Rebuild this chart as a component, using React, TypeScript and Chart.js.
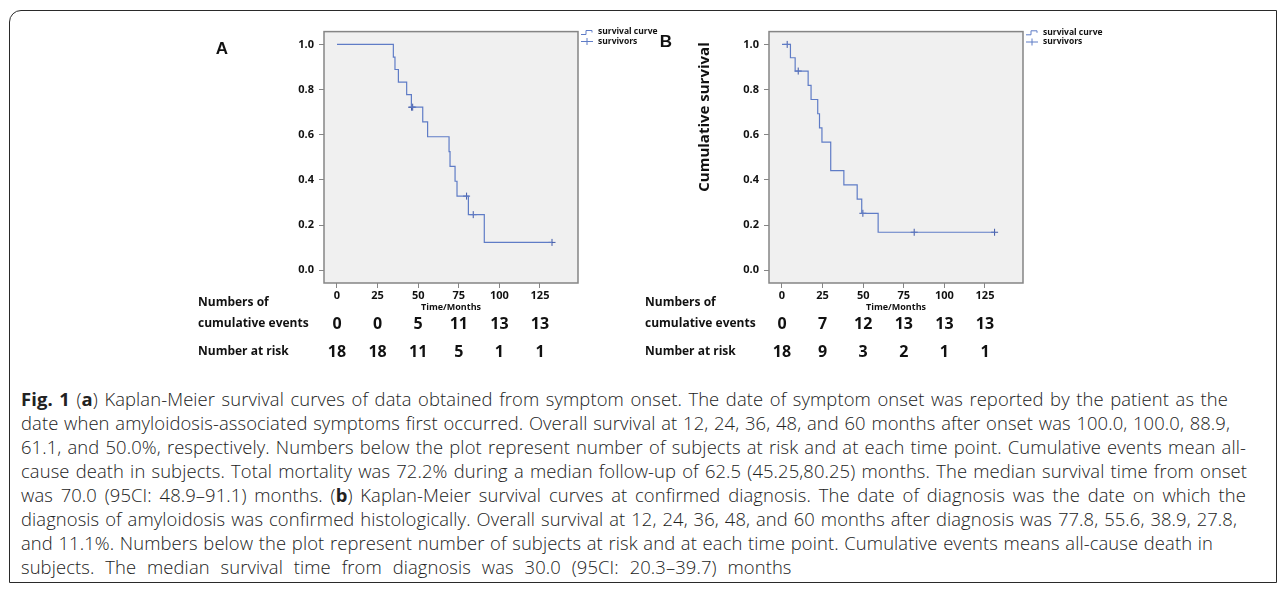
import React, { useEffect, useRef } from 'react';
import { Chart, registerables } from 'chart.js';
Chart.register(...registerables);

// ---------- data ----------
const xTicks = [0, 25, 50, 75, 100, 125];
const yTicks = [0, 0.2, 0.4, 0.6, 0.8, 1.0];

// Panel A (from symptom onset)
const timesA = [0, 34.7, 35.7, 37.8, 42.9, 45.8, 52.8, 55.8, 69.0, 69.6, 72.7, 73.9, 80.9, 90.7, 132.4];
const survA = [1.0, 0.944, 0.889, 0.833, 0.778, 0.722, 0.657, 0.591, 0.525, 0.46, 0.394, 0.328, 0.246, 0.123, 0.123];
const censorTimesA = [45.9, 46.6, 79.8, 83.9, 132.4];
const censorSurvA = [0.722, 0.722, 0.328, 0.246, 0.123];
const eventsA = [0, 0, 5, 11, 13, 13];
const riskA = [18, 18, 11, 5, 1, 1];

// Panel B (from confirmed diagnosis)
const timesB = [0, 5.2, 8.1, 16.1, 17.9, 22.0, 23.1, 24.6, 30.0, 38.1, 46.3, 49.1, 59.2, 130.9];
const survB = [1.0, 0.941, 0.882, 0.819, 0.756, 0.693, 0.63, 0.567, 0.441, 0.378, 0.315, 0.252, 0.168, 0.168];
const censorTimesB = [3.2, 10.0, 49.8, 81.4, 130.9];
const censorSurvB = [1.0, 0.882, 0.252, 0.168, 0.168];
const eventsB = [0, 7, 12, 13, 13, 13];
const riskB = [18, 9, 3, 2, 1, 1];

const legendLabels = ['survival curve', 'survivors'];
const tableLabels = ['Numbers of', 'cumulative events', 'Number at risk'];
const xTitle = 'Time/Months';
const yTitleB = 'Cumulative survival';

// ---------- style ----------
const CURVE = '#5f7cc6';
const CENSOR = '#3f58a8';
const TXT = '#111111';
const FONT = "'Open Sans', 'DejaVu Sans', sans-serif";

type PanelCfg = {
  id: string;
  ox: number; oy: number; w: number; h: number;
  padTop: number; padRight: number;
  letter: string; letterX: number; letterY: number;
  legendX: number; legendY1: number; legendY2: number;
  tableX: number;
  yTitle?: string; yTitleX?: number; yTitleY?: number;
  times: number[]; surv: number[]; cT: number[]; cS: number[];
  events: number[]; risk: number[];
};

function makeDecor(p: PanelCfg) {
  return {
    id: 'decor_' + p.id,
    beforeDraw(chart: any) {
      const { ctx, chartArea: a } = chart;
      ctx.save();
      ctx.fillStyle = '#f0f0f0';
      ctx.fillRect(a.left, a.top, a.right - a.left, a.bottom - a.top);
      ctx.restore();
    },
    afterDraw(chart: any) {
      const { ctx, chartArea: a, scales } = chart;
      const X = (v: number) => v - p.ox;
      const Y = (v: number) => v - p.oy;
      ctx.save();
      ctx.strokeStyle = '#858585';
      ctx.lineWidth = 1.5;
      ctx.strokeRect(a.left, a.top, a.right - a.left, a.bottom - a.top);

      // panel letter
      ctx.fillStyle = TXT;
      ctx.font = "bold 17px 'Liberation Sans', Arial, sans-serif";
      ctx.textAlign = 'center';
      ctx.textBaseline = 'middle';
      ctx.fillText(p.letter, X(p.letterX), Y(p.letterY));

      // legend
      const lx = X(p.legendX);
      const l1 = Y(p.legendY1);
      const l2 = Y(p.legendY2);
      ctx.strokeStyle = CURVE;
      ctx.lineWidth = 1;
      ctx.beginPath();
      ctx.moveTo(lx, l1 + 2.5);
      ctx.lineTo(lx + 5, l1 + 2.5);
      ctx.lineTo(lx + 5, l1 - 1.5);
      ctx.lineTo(lx + 11, l1 - 1.5);
      ctx.lineTo(lx + 11, l1 + 0.5);
      ctx.stroke();
      ctx.beginPath();
      ctx.moveTo(lx, l2);
      ctx.lineTo(lx + 12, l2);
      ctx.moveTo(lx + 6, l2 - 3.5);
      ctx.lineTo(lx + 6, l2 + 3.5);
      ctx.stroke();
      ctx.fillStyle = TXT;
      ctx.font = `bold 8.5px ${FONT}`;
      ctx.textAlign = 'left';
      ctx.fillText(legendLabels[0], lx + 17, l1);
      ctx.fillText(legendLabels[1], lx + 17, l2);

      // x axis title
      ctx.font = `bold 9px ${FONT}`;
      ctx.textAlign = 'center';
      ctx.fillText(xTitle, (a.left + a.right) / 2, Y(307));

      // y title
      if (p.yTitle) {
        ctx.save();
        ctx.translate(X(p.yTitleX as number), Y(p.yTitleY as number));
        ctx.rotate(-Math.PI / 2);
        ctx.font = `bold 15px ${FONT}`;
        ctx.textAlign = 'center';
        ctx.textBaseline = 'middle';
        ctx.fillText(p.yTitle, 0, 0);
        ctx.restore();
      }

      // risk table
      ctx.font = `bold 12px ${FONT}`;
      ctx.textAlign = 'left';
      ctx.fillText(tableLabels[0], X(p.tableX), Y(303));
      ctx.fillText(tableLabels[1], X(p.tableX), Y(324));
      ctx.fillText(tableLabels[2], X(p.tableX), Y(352));
      ctx.font = `bold 16px ${FONT}`;
      ctx.textAlign = 'center';
      const xs = scales.x;
      xTicks.forEach((t, i) => {
        const px = xs.getPixelForValue(t);
        ctx.fillText(String(p.events[i]), px, Y(324));
        ctx.fillText(String(p.risk[i]), px, Y(352));
      });
      ctx.restore();
    },
  };
}

function Panel({ p }: { p: PanelCfg }) {
  const ref = useRef<HTMLCanvasElement | null>(null);
  useEffect(() => {
    if (!ref.current) return;
    const chartAreaBottom = 263;
    const xAxisH = 30;
    const chart = new Chart(ref.current, {
      type: 'line',
      data: {
        datasets: [
          {
            data: p.times.map((t, i) => ({ x: t, y: p.surv[i] })),
            borderColor: CURVE,
            borderWidth: 1.2,
            stepped: 'before',
            pointRadius: 0,
            fill: false,
          },
          {
            data: p.cT.map((t, i) => ({ x: t, y: p.cS[i] })),
            showLine: false,
            pointStyle: 'cross',
            pointRadius: 3.5,
            borderColor: CENSOR,
            borderWidth: 1,
            backgroundColor: CENSOR,
          },
        ],
      },
      options: {
        animation: false,
        responsive: false,
        events: [],
        layout: {
          padding: {
            left: 0,
            top: p.padTop,
            right: p.padRight,
            bottom: p.h - chartAreaBottom - xAxisH,
          },
        },
        plugins: { legend: { display: false }, tooltip: { enabled: false } },
        scales: {
          x: {
            type: 'linear',
            min: -8,
            max: 148.4,
            afterBuildTicks: (s: any) => {
              s.ticks = xTicks.map((v) => ({ value: v }));
            },
            afterFit: (s: any) => {
              s.height = xAxisH;
            },
            ticks: {
              autoSkip: false,
              maxRotation: 0,
              padding: 1,
              color: TXT,
              font: { family: FONT, weight: 'bold', size: 11 },
            },
            grid: { drawOnChartArea: false, drawTicks: true, tickLength: 5, color: '#858585' },
            border: { display: false },
          },
          y: {
            type: 'linear',
            min: -0.0568,
            max: 1.0568,
            afterBuildTicks: (s: any) => {
              s.ticks = yTicks.map((v) => ({ value: v }));
            },
            afterFit: (s: any) => {
              s.width = 144;
            },
            ticks: {
              padding: 5,
              color: TXT,
              font: { family: FONT, weight: 'bold', size: 11 },
              callback: (v: any) => Number(v).toFixed(1),
            },
            grid: { drawOnChartArea: false, drawTicks: true, tickLength: 5, color: '#858585' },
            border: { display: false },
          },
        },
      } as any,
      plugins: [makeDecor(p)],
    });
    return () => chart.destroy();
  }, [p]);
  return (
    <canvas
      ref={ref}
      width={p.w}
      height={p.h}
      style={{ position: 'absolute', left: p.ox, top: p.oy, width: p.w, height: p.h }}
    />
  );
}

const panelA: PanelCfg = {
  id: 'A', ox: 180, oy: 20, w: 490, h: 360, padTop: 8, padRight: 92,
  letter: 'A', letterX: 222, letterY: 49,
  legendX: 581, legendY1: 32, legendY2: 41.5,
  tableX: 198,
  times: timesA, surv: survA, cT: censorTimesA, cS: censorSurvA,
  events: eventsA, risk: riskA,
};

const panelB: PanelCfg = {
  id: 'B', ox: 625, oy: 20, w: 500, h: 360, padTop: 9, padRight: 102,
  letter: 'B', letterX: 666, letterY: 42,
  legendX: 1026, legendY1: 32.3, legendY2: 42,
  tableX: 645,
  yTitle: yTitleB, yTitleX: 705, yTitleY: 117,
  times: timesB, surv: survB, cT: censorTimesB, cS: censorSurvB,
  events: eventsB, risk: riskB,
};

const captionLines: { parts: (string | { b: string })[]; end: number }[] = [
  { parts: [{ b: 'Fig. 1' }, ' (', { b: 'a' }, ') Kaplan-Meier survival curves of data obtained from symptom onset. The date of symptom onset was reported by the patient as the'], end: 1228 },
  { parts: ['date when amyloidosis-associated symptoms first occurred. Overall survival at 12, 24, 36, 48, and 60 months after onset was 100.0, 100.0, 88.9,'], end: 1230 },
  { parts: ['61.1, and 50.0%, respectively. Numbers below the plot represent number of subjects at risk and at each time point. Cumulative events mean all-'], end: 1246 },
  { parts: ['cause death in subjects. Total mortality was 72.2% during a median follow-up of 62.5 (45.25,80.25) months. The median survival time from onset'], end: 1247 },
  { parts: ['was 70.0 (95CI: 48.9\u201391.1) months. (', { b: 'b' }, ') Kaplan-Meier survival curves at confirmed diagnosis. The date of diagnosis was the date on which the'], end: 1246 },
  { parts: ['diagnosis of amyloidosis was confirmed histologically. Overall survival at 12, 24, 36, 48, and 60 months after diagnosis was 77.8, 55.6, 38.9, 27.8,'], end: 1237 },
  { parts: ['and 11.1%. Numbers below the plot represent number of subjects at risk and at each time point. Cumulative events means all-cause death in'], end: 1213 },
  { parts: ['subjects. The median survival time from diagnosis was 30.0 (95CI: 20.3\u201339.7) months'], end: 0 },
];

export default function App() {
  const capLeft = 21;
  return (
    <div style={{ position: 'fixed', left: 0, top: 0, width: 1287, height: 590, background: '#fff', overflow: 'hidden' }}>
      <div
        style={{
          position: 'absolute',
          left: 9,
          top: 10,
          width: 1268,
          height: 573,
          border: '1.5px solid #2a2a2a',
          borderTopLeftRadius: 12,
          boxSizing: 'border-box',
        }}
      />
      <Panel p={panelA} />
      <Panel p={panelB} />
      <div style={{ position: 'absolute', left: capLeft, top: 387, fontFamily: FONT, fontSize: 18.4, letterSpacing: '0.1px', fontWeight: 300, color: '#222', lineHeight: '24px' }}>
        {captionLines.map((ln, i) => (
          <div
            key={i}
            style={
              ln.end > 0
                ? { width: ln.end - capLeft, whiteSpace: 'nowrap', textAlign: 'justify', textAlignLast: 'justify', height: 24 }
                : { whiteSpace: 'nowrap', textAlign: 'left', wordSpacing: '6px', height: 24 }
            }
          >
            {ln.parts.map((pt, j) =>
              typeof pt === 'string' ? <span key={j}>{pt}</span> : <b key={j} style={{ fontWeight: 700 }}>{pt.b}</b>
            )}
          </div>
        ))}
      </div>
    </div>
  );
}
